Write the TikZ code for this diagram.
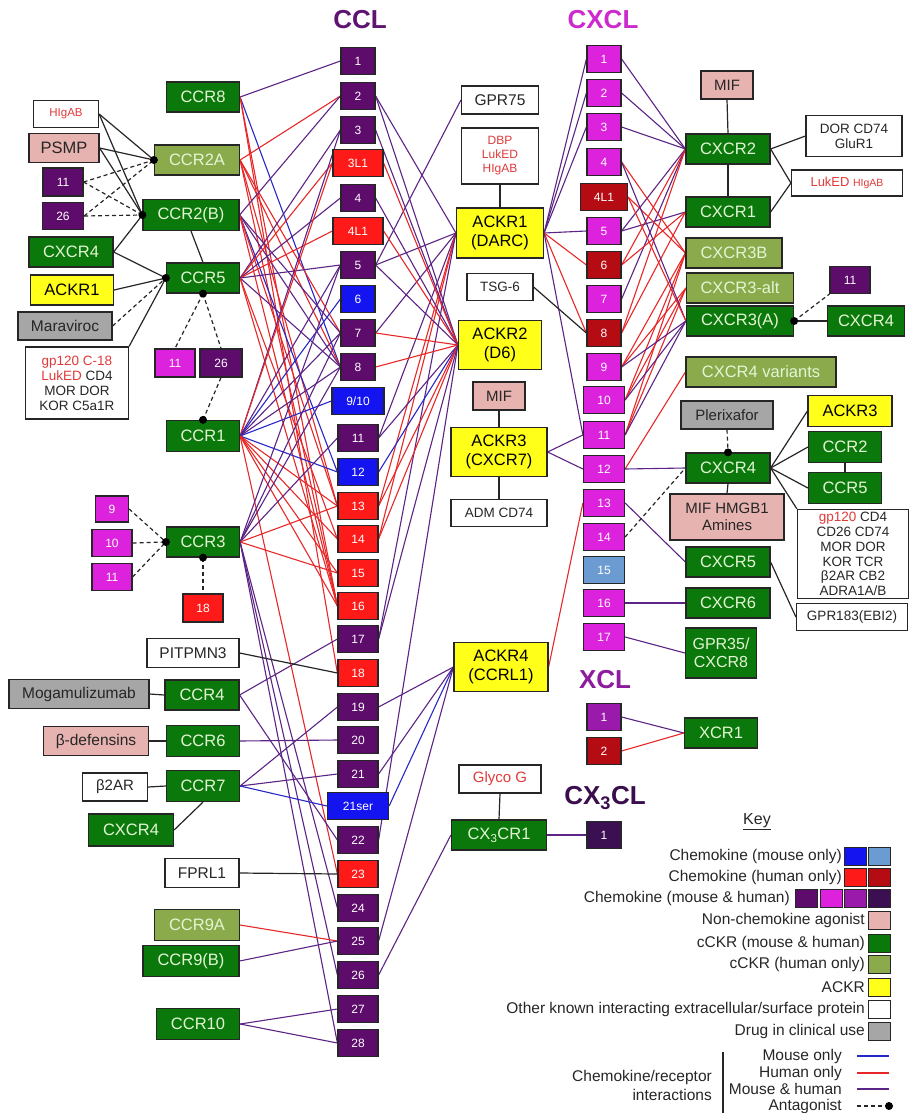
\documentclass[tikz,border=0pt]{standalone}
\usepackage{fontspec}
\setmainfont{Liberation Sans}
\pgfdeclarelayer{bg}\pgfsetlayers{bg,main}
\newcommand{\myfs}[1]{\fontsize{#1}{\dimexpr#1pt*6/5\relax}\selectfont}
\definecolor{grn}{HTML}{0B780B}
\definecolor{gtxt}{HTML}{E2F6D4}
\definecolor{oli}{HTML}{8BAA4B}
\definecolor{yel}{HTML}{FFFF1A}
\definecolor{pnk}{HTML}{E6B3B0}
\definecolor{gry}{HTML}{A6A6A6}
\definecolor{cpur}{HTML}{5E0C6C}
\definecolor{cred}{HTML}{FF1A1A}
\definecolor{cblu}{HTML}{1414F0}
\definecolor{cmag}{HTML}{DD22DD}
\definecolor{cdred}{HTML}{B40C12}
\definecolor{clblu}{HTML}{6C9BD2}
\definecolor{xpur}{HTML}{9A1AAC}
\definecolor{cxind}{HTML}{3C0E52}
\definecolor{tred}{HTML}{E03A3A}
\definecolor{lpur}{HTML}{5C2484}
\definecolor{lred}{HTML}{E82828}
\definecolor{lblu}{HTML}{2828C8}
\definecolor{tccl}{HTML}{5E1470}
\definecolor{tcxcl}{HTML}{CC2ACC}
\definecolor{txcl}{HTML}{8E1C9E}
\definecolor{tcx3}{HTML}{3A0E4C}
\tikzset{
 bx/.style={draw=black!85, line width=1.2pt, inner sep=1pt, align=center, font=\myfs{16.5}},
 rgr/.style={bx, fill=grn, text=gtxt},
 rol/.style={bx, fill=oli, text=gtxt},
 rye/.style={bx, fill=yel, text=black},
 rpk/.style={bx, fill=pnk, text=black!85},
 rgy/.style={bx, fill=gry, text=black!85},
 rwh/.style={bx, fill=white, text=black!85},
 ck/.style={draw=black!85, line width=1.2pt, inner sep=0pt, minimum width=34pt, minimum height=27pt, text=white, font=\myfs{12}},
 kpur/.style={ck, fill=cpur}, kred/.style={ck, fill=cred}, kblu/.style={ck, fill=cblu},
 kmag/.style={ck, fill=cmag}, kdred/.style={ck, fill=cdred}, klblu/.style={ck, fill=clblu},
 emh/.style={draw=lpur, line width=1.1pt},
 ehu/.style={draw=lred, line width=1.1pt},
 emo/.style={draw=lblu, line width=1.1pt},
 ebk/.style={draw=black!85, line width=1.2pt},
 ean/.style={draw=black!85, line width=1.2pt, dash pattern=on 4pt off 3pt},
 adot/.style={fill=black},
 ttl/.style={font=\bfseries\myfs{26}},
 lgd/.style={anchor=east, inner sep=0pt, font=\myfs{15.5}, text=black!85},
 lsq/.style={draw=black!85, line width=1pt, minimum width=22pt, minimum height=18pt, inner sep=0pt},
}
\begin{document}
\begin{tikzpicture}[x=1pt,y=-1pt]
\useasboundingbox (0,0) rectangle (910,1113);
% titles
\node[ttl, text=tccl] (tCCL) at (360,20) {CCL};
\node[ttl, text=tcxcl] (tCXCL) at (603,20) {CXCL};
\node[ttl, text=txcl] (tXCL) at (605,680) {XCL};
\node[ttl, text=tcx3] (tCX3) at (605,798) {CX\textsubscript{3}CL};
% CCL column
\foreach \n/\y/\s in {1/61/kpur,2/96/kpur,3/130/kpur,4/198/kpur,5/265/kpur,6/299/kblu,7/333/kpur,8/367/kpur}
  \node[\s] (l\n) at (358,\y) {\n};
\node[kred, minimum width=50pt] (l3L1) at (358,163) {3L1};
\node[kred, minimum width=50pt] (l4L1) at (358,231) {4L1};
\node[kblu, minimum width=52pt] (l910) at (358,401) {9/10};
\foreach \n/\y/\s in {11/438/kpur,12/472/kblu,13/506/kred,14/539/kred,15/573/kred,16/606/kred,17/639/kpur,18/673/kred,19/707/kpur,20/740/kpur,21/774/kpur,22/840/kpur,23/874/kred,24/908/kpur,25/941/kpur,26/975/kpur,27/1009/kpur,28/1043/kpur}
  \node[\s, minimum width=40pt] (l\n) at (358,\y) {\n};
\node[kblu, minimum width=61pt] (l21ser) at (358,806) {21ser};
% CXCL column
\foreach \n/\y/\s in {1/59/kmag,2/93/kmag,3/127/kmag,4/162/kmag,5/231/kmag,6/265/kdred,7/299/kmag,8/333/kdred,9/367/kmag}
  \node[\s] (x\n) at (604,\y) {\n};
\node[kdred, minimum width=47pt] (x4L1) at (604,197) {4L1};
\foreach \n/\y/\s in {10/400/kmag,11/435/kmag,12/469/kmag,13/503/kmag,14/537/kmag,15/570/klblu,16/603/kmag,17/637/kmag}
  \node[\s, minimum width=41pt] (x\n) at (604,\y) {\n};
\node[ck, fill=xpur] (xc1) at (604,717) {1};
\node[kdred] (xc2) at (604,751) {2};
\node[ck, fill=cxind] (cx1) at (604,835) {1};
% left receptors and partners
\node[rwh, minimum width=65pt, minimum height=27pt, font=\myfs{11.5}, text=tred] (higab) at (66,114) {HIgAB};
\node[rpk, minimum width=70pt, minimum height=29pt] (psmp) at (64,148) {PSMP};
\node[kpur, minimum width=40pt, minimum height=28pt] (a11) at (63,182) {11};
\node[kpur, minimum width=41pt] (a26) at (63,216) {26};
\node[rgr, minimum width=84pt, minimum height=30pt] (cxcr4a) at (71,252) {CXCR4};
\node[rgr, minimum width=73pt, minimum height=30pt] (ccr8) at (203,97) {CCR8};
\node[rol, minimum width=85pt, minimum height=30pt] (ccr2a) at (197,160) {CCR2A};
\node[rgr, minimum width=96pt, minimum height=31pt] (ccr2b) at (191,215) {CCR2(B)};
\node[rgr, minimum width=73pt, minimum height=30pt] (ccr5) at (203,278) {CCR5};
\node[rye, minimum width=83pt, minimum height=30pt] (ackr1l) at (72,290) {ACKR1};
\node[rgy, minimum width=94pt, minimum height=28pt, font=\myfs{15.5}] (mara) at (65,326) {Maraviroc};
\node[rwh, minimum width=103pt, minimum height=72pt, font=\fontsize{13.5}{15}\selectfont] (gp120l) at (77,383)
  {{\color{tred}gp120 C-18}\\{\color{tred}LukED} CD4\\MOR DOR\\KOR C5a1R};
\node[kmag, minimum width=40pt, minimum height=28pt] (b11) at (175,363) {11};
\node[kpur, minimum width=42pt, minimum height=28pt] (b26) at (221,363) {26};
\node[rgr, minimum width=73pt, minimum height=31pt] (ccr1) at (203,436) {CCR1};
\node[kmag, minimum width=33pt, minimum height=26pt] (c9) at (112,509) {9};
\node[kmag, minimum width=40pt] (c10) at (112,543) {10};
\node[kmag, minimum width=40pt] (c11) at (112,577) {11};
\node[rgr, minimum width=73pt, minimum height=30pt] (ccr3) at (203,542) {CCR3};
\node[kred, minimum width=40pt, minimum height=28pt] (d18) at (203,608) {18};
\node[rwh, minimum width=92pt, minimum height=29pt, font=\myfs{15.5}] (pitp) at (193,653) {PITPMN3};
\node[rgy, minimum width=140pt, minimum height=29pt, font=\myfs{15.5}] (mogam) at (79,694) {Mogamulizumab};
\node[rgr, minimum width=74pt, minimum height=30pt] (ccr4) at (202,695) {CCR4};
\node[rpk, minimum width=105pt, minimum height=29pt, font=\myfs{15.5}] (bdef) at (96,741) {β-defensins};
\node[rgr, minimum width=73pt, minimum height=31pt] (ccr6) at (203,741) {CCR6};
\node[rwh, minimum width=65pt, minimum height=28pt, font=\myfs{15}] (b2ar) at (115,787) {β2AR};
\node[rgr, minimum width=73pt, minimum height=31pt] (ccr7) at (203,786) {CCR7};
\node[rgr, minimum width=85pt, minimum height=32pt] (cxcr4c) at (131,830) {CXCR4};
\node[rwh, minimum width=74pt, minimum height=29pt, font=\myfs{15.5}] (fprl1) at (202,873) {FPRL1};
\node[rol, minimum width=85pt, minimum height=31pt] (ccr9a) at (197,925) {CCR9A};
\node[rgr, minimum width=96pt, minimum height=31pt] (ccr9b) at (191,961) {CCR9(B)};
\node[rgr, minimum width=83pt, minimum height=31pt] (ccr10) at (198,1024) {CCR10};
% middle
\node[rwh, minimum width=77pt, minimum height=28pt, font=\myfs{15.5}] (gpr75) at (500,100) {GPR75};
\node[rwh, minimum width=77pt, minimum height=56pt, font=\fontsize{12}{14}\selectfont, text=tred] (dbp) at (500,156) {DBP\\LukED\\HIgAB};
\node[rye, minimum width=87pt, minimum height=50pt] (ackr1) at (500,233) {ACKR1\\(DARC)};
\node[rwh, minimum width=66pt, minimum height=27pt, font=\myfs{13.5}] (tsg6) at (500,287) {TSG-6};
\node[rye, minimum width=83pt, minimum height=49pt] (ackr2) at (500,345) {ACKR2\\(D6)};
\node[rpk, minimum width=52pt, minimum height=28pt, font=\myfs{15}] (mifm) at (499,396) {MIF};
\node[rye, minimum width=96pt, minimum height=49pt] (ackr3) at (499,452) {ACKR3\\(CXCR7)};
\node[rwh, minimum width=96pt, minimum height=27pt, font=\myfs{13.5}] (adm) at (499,513) {ADM CD74};
\node[rye, minimum width=94pt, minimum height=49pt] (ackr4) at (501,667) {ACKR4\\(CCRL1)};
\node[rwh, minimum width=82pt, minimum height=28pt, font=\myfs{15}, text=tred] (glyco) at (500,779) {Glyco G};
\node[rgr, minimum width=95pt, minimum height=30pt] (cx3cr1) at (499,835) {CX\textsubscript{3}CR1};
% right
\node[rpk, minimum width=52pt, minimum height=28pt, font=\myfs{15}] (mifr) at (727,85) {MIF};
\node[rgr, minimum width=84pt, minimum height=30pt] (cxcr2) at (728,149) {CXCR2};
\node[rwh, minimum width=96pt, minimum height=41pt, font=\fontsize{13.5}{15}\selectfont] (dorb) at (854,136) {DOR CD74\\GluR1};
\node[rwh, minimum width=111pt, minimum height=26pt, text=tred] (lukb) at (847,183) {\myfs{13}LukED \myfs{10.5}HIgAB};
\node[rgr, minimum width=84pt, minimum height=30pt] (cxcr1) at (728,212) {CXCR1};
\node[rol, minimum width=96pt, minimum height=30pt] (cxcr3b) at (734,253) {CXCR3B};
\node[rol, minimum width=107pt, minimum height=30pt] (cxcr3alt) at (740,288) {CXCR3-alt};
\node[rgr, minimum width=107pt, minimum height=30pt] (cxcr3a) at (740,321) {CXCR3(A)};
\node[kpur, minimum width=40pt] (r11) at (850,280) {11};
\node[rgr, minimum width=77pt, minimum height=30pt] (cxcr4r) at (866,321) {CXCR4};
\node[rol, minimum width=150pt, minimum height=30pt] (cxcr4v) at (761,372) {CXCR4 variants};
\node[rgy, minimum width=92pt, minimum height=28pt, font=\myfs{15}] (plx) at (727,415) {Plerixafor};
\node[rgr, minimum width=84pt, minimum height=30pt] (cxcr4) at (728,468) {CXCR4};
\node[rye, minimum width=84pt, minimum height=31pt] (ackr3r) at (850,411) {ACKR3};
\node[rgr, minimum width=73pt, minimum height=31pt] (ccr2r) at (845,447) {CCR2};
\node[rgr, minimum width=73pt, minimum height=31pt] (ccr5r) at (845,488) {CCR5};
\node[rwh, minimum width=111pt, minimum height=89pt, font=\fontsize{13.5}{14.8}\selectfont] (gpr) at (853,554)
  {{\color{tred}gp120} CD4\\CD26 CD74\\MOR DOR\\KOR TCR\\β2AR CB2\\ADRA1A/B};
\node[rpk, minimum width=114pt, minimum height=46pt, font=\fontsize{15}{17}\selectfont] (mifh) at (727,517) {MIF HMGB1\\Amines};
\node[rgr, minimum width=84pt, minimum height=30pt] (cxcr5) at (728,562) {CXCR5};
\node[rgr, minimum width=84pt, minimum height=30pt] (cxcr6) at (728,603) {CXCR6};
\node[rwh, minimum width=111pt, minimum height=27pt, font=\myfs{13.5}] (gpr183) at (852,617) {GPR183(EBI2)};
\node[rgr, minimum width=71pt, minimum height=50pt, font=\fontsize{16}{18}\selectfont] (gpr35) at (721,653) {GPR35/\\CXCR8};
\node[rgr, minimum width=73pt, minimum height=30pt] (xcr1) at (721,733) {XCR1};
% edges
\begin{pgfonlayer}{bg}
\foreach \a/\b/\s in {ccr8/l1/emh, ccr8/l8/emo, ccr8/l16/ehu, ccr8/l18/ehu,
 ccr2a/l2/ehu, ccr2a/l7/ehu, ccr2a/l8/ehu, ccr2a/l13/ehu, ccr2a/l16/ehu,
 ccr2b/l2/emh, ccr2b/l7/emh, ccr2b/l8/emh, ccr2b/l12/emo, ccr2b/l13/ehu, ccr2b/l16/ehu,
 ccr5/l3/emh, ccr5/l3L1/ehu, ccr5/l4/emh, ccr5/l4L1/ehu, ccr5/l5/emh, ccr5/l8/emh, ccr5/l14/ehu, ccr5/l16/ehu,
 ccr1/l3/emh, ccr1/l3L1/ehu, ccr1/l5/emh, ccr1/l6/emo, ccr1/l7/emh, ccr1/l8/emh, ccr1/l910/emo, ccr1/l12/emo, ccr1/l13/ehu, ccr1/l14/ehu, ccr1/l15/ehu, ccr1/l16/ehu, ccr1/l23/ehu,
 ccr3/l5/emh, ccr3/l7/emh, ccr3/l8/emh, ccr3/l11/emh, ccr3/l13/ehu, ccr3/l15/ehu, ccr3/l24/emh, ccr3/l26/emh, ccr3/l28/emh,
 ccr4/l17/emh, ccr4/l22/emh, ccr6/l20/emh, ccr7/l19/emh, ccr7/l21/emh, ccr7/l21ser/emo,
 ccr9a/l25/ehu, ccr9b/l25/emh, ccr10/l27/emh, ccr10/l28/emh, pitp/l18/ebk, fprl1/l23/ebk,
 l5/gpr75/emh,
 l2/ackr1/emh, l5/ackr1/emh, l7/ackr1/emh, l11/ackr1/emh, l13/ackr1/ehu, l14/ackr1/ehu, l17/ackr1/emh,
 l2/ackr2/emh, l3/ackr2/emh, l3L1/ackr2/ehu, l4/ackr2/emh, l4L1/ackr2/ehu, l5/ackr2/emh, l7/ackr2/ehu, l8/ackr2/ehu, l11/ackr2/emh, l12/ackr2/emo, l13/ackr2/ehu, l14/ackr2/ehu, l17/ackr2/emh, l22/ackr2/emh,
 l19/ackr4/emh, l21/ackr4/emh, l21ser/ackr4/emo, l25/ackr4/emh, l26/cx3cr1/emh,
 ackr1/x1/emh, ackr1/x2/emh, ackr1/x3/emh, ackr1/x5/emh, ackr1/x6/ehu, ackr1/x8/ehu, ackr1/x11/emh,
 tsg6/x8/ebk, ackr3/x11/emh, ackr3/x12/emh, ackr4/x13/ehu, cx3cr1/cx1/emh,
 x1/cxcr2/emh, x2/cxcr2/emh, x3/cxcr2/emh, x5/cxcr2/emh, x6/cxcr2/ehu, x7/cxcr2/emh, x8/cxcr2/ehu,
 x5/cxcr1/emh, x6/cxcr1/ehu, x8/cxcr1/ehu,
 x4/cxcr3b/ehu, x4L1/cxcr3b/ehu, x9/cxcr3b/ehu, x10/cxcr3b/ehu, x11/cxcr3b/ehu,
 x9/cxcr3alt/ehu, x10/cxcr3alt/ehu, x11/cxcr3alt/ehu,
 x4/cxcr3a/emh, x4L1/cxcr3a/ehu, x9/cxcr3a/emh, x10/cxcr3a/emh, x11/cxcr3a/emh,
 x12/cxcr4v/ehu, x12/cxcr4/emh, x13/cxcr5/emh, x16/cxcr6/emh, x17/gpr35/emh, xc1/xcr1/emh, xc2/xcr1/ehu,
 higab/ccr2a/ebk, higab/ccr2b/ebk, psmp/ccr2a/ebk, psmp/ccr2b/ebk, a11/ccr2a/ean, a11/ccr2b/ean, a26/ccr2a/ean, a26/ccr2b/ean,
 cxcr4a/ccr2b/ebk, cxcr4a/ccr5/ebk, ackr1l/ccr5/ebk, mara/ccr5/ean, c9/ccr3/ean, c10/ccr3/ean, c11/ccr3/ean,
 mogam/ccr4/ebk, bdef/ccr6/ebk, b2ar/ccr7/ebk, cxcr2/dorb/ebk, cxcr2/lukb/ebk, cxcr1/lukb/ebk, cxcr3a/cxcr4r/ebk,
 cxcr4/ackr3r/ebk, cxcr4/ccr2r/ebk, cxcr4/ccr5r/ebk, cxcr5/gpr183/ebk, x14/cxcr4/ean}
  \draw[\s] (\a.east) -- (\b.west);
\draw[ebk] (gp120l.north east) -- (ccr5.west);
\draw[ebk] (ccr2b.south) -- (ccr5.north);
\draw[ean] (ccr5.south) -- (b11.north);
\draw[ean] (ccr5.south) -- (b26.north);
\draw[ean] (b26.south) -- (ccr1.north);
\draw[ean] (ccr3.south) -- (d18.north);
\draw[ebk] (cxcr4c.east) -- (ccr7.south);
\draw[ebk] (dbp.south) -- (ackr1.north);
\draw[ebk] (mifm.south) -- (ackr3.north);
\draw[ebk] (ackr3.south) -- (adm.north);
\draw[ebk] (glyco.south) -- (cx3cr1.north);
\draw[ebk] (mifr.south) -- (cxcr2.north);
\draw[ebk] (cxcr2.south) -- (cxcr1.north);
\draw[ean] (cxcr3a.east) -- (r11.south west);
\draw[ean] (plx.south) -- (cxcr4.north);
\draw[ebk] (cxcr4.south) -- (mifh.north);
\draw[ebk] (cxcr4.east) -- (gpr.north west);
\draw[ebk] (ccr2r.south) -- (ccr5r.north);
\end{pgfonlayer}
% antagonist dots
\foreach \p in {ccr2a.west, ccr2b.west, ccr5.west, ccr5.south, ccr1.north, ccr3.west, ccr3.south, cxcr3a.east, cxcr4.north}
  \fill[adot] (\p) circle (4pt);
% key
\node[font=\myfs{16}, text=black!85] (key) at (757,822) {\underline{Key}};
\node[lgd] (k1) at (842,856) {Chemokine (mouse only)};
\node[lsq, fill=cblu] (k1a) at (855,856) {};
\node[lsq, fill=clblu] (k1b) at (879,856) {};
\node[lgd] (k2) at (842,877) {Chemokine (human only)};
\node[lsq, fill=cred] (k2a) at (855,877) {};
\node[lsq, fill=cdred] (k2b) at (879,877) {};
\node[lgd] (k3) at (790,898) {Chemokine (mouse \& human)};
\node[lsq, fill=cpur] (k3a) at (806,898) {};
\node[lsq, fill=cmag] (k3b) at (831,898) {};
\node[lsq, fill=xpur] (k3c) at (855,898) {};
\node[lsq, fill=cxind] (k3d) at (879,898) {};
\node[lgd] (k4) at (865,920) {Non-chemokine agonist};
\node[lsq, fill=pnk] (k4a) at (879,920) {};
\node[lgd] (k5) at (865,943) {cCKR (mouse \& human)};
\node[lsq, fill=grn] (k5a) at (879,943) {};
\node[lgd] (k6) at (865,964) {cCKR (human only)};
\node[lsq, fill=oli] (k6a) at (879,964) {};
\node[lgd] (k7) at (865,987) {ACKR};
\node[lsq, fill=yel] (k7a) at (879,987) {};
\node[lgd] (k8) at (865,1009) {Other known interacting extracellular/surface protein};
\node[lsq, fill=white] (k8a) at (879,1009) {};
\node[lgd] (k9) at (865,1031) {Drug in clinical use};
\node[lsq, fill=gry] (k9a) at (879,1031) {};
\node[lgd] (m1) at (842,1056) {Mouse only};
\node[lgd] (m2) at (842,1073) {Human only};
\node[lgd] (m3) at (842,1089) {Mouse \& human};
\node[lgd] (m4) at (842,1106) {Antagonist};
\coordinate (m1a) at (857,1056); \coordinate (m1b) at (889,1056);
\coordinate (m2a) at (857,1073); \coordinate (m2b) at (889,1073);
\coordinate (m3a) at (857,1089); \coordinate (m3b) at (889,1089);
\coordinate (m4a) at (857,1106); \coordinate (m4b) at (889,1106);
\draw[emo, line width=1.6pt] (m1a) -- (m1b);
\draw[ehu, line width=1.6pt] (m2a) -- (m2b);
\draw[emh, line width=1.6pt] (m3a) -- (m3b);
\draw[ean] (m4a) -- (m4b);
\fill[adot] (m4b) circle (4pt);
\coordinate (vb1) at (723,1052); \coordinate (vb2) at (723,1113);
\draw[ebk] (vb1) -- (vb2);
\node[lgd] (cr1) at (712,1077) {Chemokine/receptor};
\node[lgd] (cr2) at (712,1095) {interactions};
\end{tikzpicture}
\end{document}
